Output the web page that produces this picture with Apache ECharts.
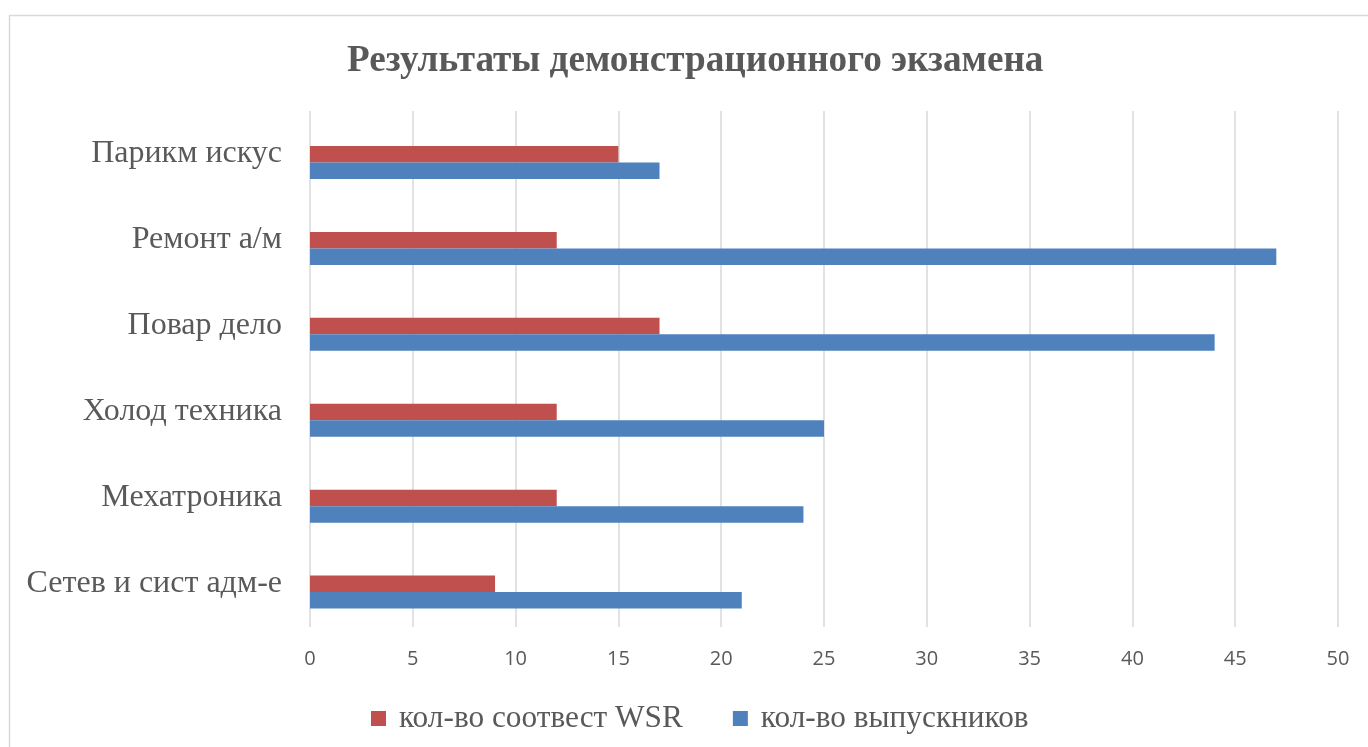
<!DOCTYPE html>
<html><head><meta charset="utf-8">
<script src="https://cdn.jsdelivr.net/npm/echarts@6/dist/echarts.min.js"></script>
<style>html,body{margin:0;padding:0;background:#fff}#c{width:1368px;height:747px}</style>
</head><body><div id="c"></div>
<script>
const categories = ['Парикм искус','Ремонт а/м','Повар дело','Холод техника','Мехатроника','Сетев и сист адм-е'];
const wsrValues = [15, 12, 17, 12, 12, 9];
const graduatesValues = [17, 47, 44, 25, 24, 21];
const seriesNames = ['кол-во соотвест WSR','кол-во выпускников'];
const xTicks = {min: 0, max: 50, interval: 5};

const chart = echarts.init(document.getElementById('c'));
const serif = '"Liberation Serif","Times New Roman",serif';
const sans = '"Open Sans","Noto Sans",sans-serif';
chart.setOption({
  animation: false,
  graphic: [{type:'rect', shape:{x:9.5,y:15.5,width:1400,height:800}, style:{fill:'none', stroke:'#d9d9d9', lineWidth:1.5}}],
  title: {text:'Результаты демонстрационного экзамена', left:342, top:38,
    textStyle:{fontFamily:serif, fontWeight:'bold', fontSize:37.2, color:'#595959'}},
  legend: {bottom:8, left:366, itemWidth:15, itemHeight:15, itemGap:50, icon:'rect',
    textStyle:{fontFamily:serif, fontSize:31.3, color:'#595959', padding:[0,0,0,8]}, data: seriesNames},
  grid: [
    {left:310, right:30, top:111, bottom:120},
    {left:310, right:30, top:119.5, bottom:112}
  ],
  xAxis: [
    {type:'value', gridIndex:0, min:xTicks.min, max:xTicks.max, interval:xTicks.interval,
      axisLine:{show:false}, axisTick:{show:false},
      splitLine:{lineStyle:{color:'#d9d9d9', width:1.5}},
      axisLabel:{fontFamily:sans, fontSize:20, color:'#595959', margin:22}},
    {type:'value', gridIndex:1, min:xTicks.min, max:xTicks.max, show:false}
  ],
  yAxis: [
    {type:'category', gridIndex:0, data:categories, inverse:true,
      axisLine:{show:false}, axisTick:{show:false},
      axisLabel:{fontFamily:serif, fontSize:32, color:'#595959', margin:28}},
    {type:'category', gridIndex:1, data:categories, inverse:true, show:false}
  ],
  series: [
    {name:seriesNames[0], type:'bar', xAxisIndex:1, yAxisIndex:1, data:wsrValues, barWidth:16.5, barGap:'0%',
      itemStyle:{color:'#C0504D'}},
    {name:seriesNames[1], type:'bar', xAxisIndex:1, yAxisIndex:1, data:graduatesValues, barWidth:16.5, barGap:'0%',
      itemStyle:{color:'#4F81BD'}}
  ]
});
</script></body></html>
